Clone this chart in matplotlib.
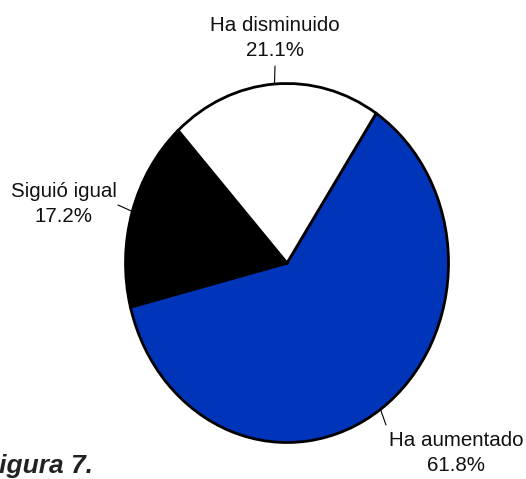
import numpy as np
import matplotlib.pyplot as plt

categories = ["Ha aumentado", "Siguió igual", "Ha disminuido"]
values = [61.8, 17.2, 21.1]
colors = ["#0035BA", "#000000", "#FFFFFF"]

# label text centres and leader line ends, in figure pixels (from top-left)
label_pos = [(456, 453), (64, 204), (275, 38)]
line_end = [(386, 425), (118, 205), (275, 66)]

W, H = 526, 479
cx, cy = 287, 263      # pie centre (pixels from top-left)
rx, ry = 161.5, 179.5  # pie is slightly taller than wide

plt.rcParams["font.family"] = ["Liberation Sans", "DejaVu Sans"]
fig = plt.figure(figsize=(W / 100, H / 100), dpi=100)
ax = fig.add_axes([0, 0, 1, 1])

wedges, _ = ax.pie(values, colors=colors, startangle=56.5, counterclock=False,
                   wedgeprops=dict(edgecolor="black", linewidth=2.0))
ax.set_aspect("auto")
ax.set_xlim(-cx / rx, (W - cx) / rx)
ax.set_ylim(-(H - cy) / ry, cy / ry)
ax.axis("off")

for w, cat, val, (tx, ty), (lx, ly) in zip(wedges, categories, values, label_pos, line_end):
    mid = np.deg2rad((w.theta1 + w.theta2) / 2)
    ax.annotate("", xy=(np.cos(mid), np.sin(mid)), xycoords="data",
                xytext=(lx, H - ly), textcoords="figure pixels",
                arrowprops=dict(arrowstyle="-", lw=0.8, color="black",
                                shrinkA=0, shrinkB=0))
    fig.text(tx / W, 1 - ty / H, f"{cat}\n{val}%", ha="center", va="center",
             fontsize=14.8, linespacing=1.35, color="#111111")

fig.text(-17 / W, 6 / H, "Figura 7.", ha="left", va="baseline", fontsize=19,
         fontweight="bold", fontstyle="italic", color="#222222")

fig.savefig("out.png", dpi=100)
